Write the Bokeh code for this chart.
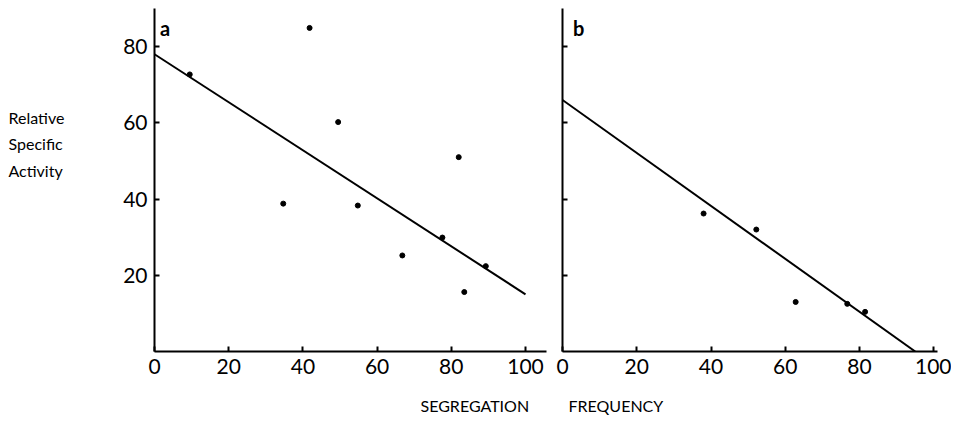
from bokeh.plotting import figure
from bokeh.layouts import row
from bokeh.models import Label, FixedTicker, Range1d, Title
from bokeh.embed import file_html
from bokeh.resources import INLINE

# ---- data ----
a_x = [9.5, 41.8, 49.5, 34.7, 54.8, 82.0, 66.8, 77.6, 89.3, 83.5]
a_y = [72.7, 84.9, 60.2, 38.8, 38.3, 51.0, 25.2, 29.9, 22.4, 15.6]
a_fit_x = [0, 100]
a_fit_y = [78, 15]

b_x = [38.0, 52.2, 62.8, 76.7, 81.5]
b_y = [36.2, 32.0, 13.0, 12.5, 10.4]
b_fit_x = [0, 95]
b_fit_y = [66, 0]

x_ticks = [0, 20, 40, 60, 80, 100]
y_ticks = [20, 40, 60, 80]
y_label_lines = ["Relative", "Specific", "Activity"]
x_title_a = "SEGREGATION"
x_title_b = "FREQUENCY"

FONT = "Lato"
H = 432


def style(p, ylabels=True):
    p.outline_line_color = None
    p.xgrid.visible = False
    p.ygrid.visible = False
    p.background_fill_color = "white"
    p.border_fill_color = "white"
    for ax in (p.xaxis[0], p.yaxis[0]):
        ax.axis_line_width = 2
        ax.axis_line_color = "black"
        ax.major_tick_line_width = 2
        ax.major_tick_line_color = "black"
        ax.major_tick_in = 5
        ax.major_tick_out = 0
        ax.minor_tick_line_color = None
        ax.major_label_text_font = FONT
        ax.major_label_text_font_size = "21px"
        ax.major_label_text_color = "black"
    p.xaxis[0].ticker = FixedTicker(ticks=x_ticks)
    p.yaxis[0].ticker = FixedTicker(ticks=y_ticks)
    p.xaxis[0].major_label_standoff = 7
    p.yaxis[0].major_label_standoff = 7
    if not ylabels:
        p.yaxis[0].major_label_overrides = {t: "" for t in y_ticks}
        p.yaxis[0].major_label_standoff = 0


# left column holding the three-line y title (its frame is aligned with panel a's)
pl = figure(width=70, height=H, x_range=Range1d(0, 70), y_range=Range1d(0, 90),
            output_backend="svg", toolbar_location=None,
            x_axis_location=None, y_axis_location=None,
            min_border_left=0, min_border_right=0, min_border_top=8, min_border_bottom=H - 352)
pl.xgrid.visible = False
pl.ygrid.visible = False
pl.outline_line_color = None
for txt, yy in zip(y_label_lines, [61.5, 54.7, 47.6]):
    pl.add_layout(Label(x=8, y=yy, text=txt, text_font=FONT, text_font_size="16px",
                        text_baseline="middle", text_align="left", text_color="black"))

pa = figure(width=484, height=H, x_range=Range1d(0, 105.66), y_range=Range1d(0, 90),
            output_backend="svg", toolbar_location=None,
            min_border_left=84, min_border_right=8, min_border_top=8, min_border_bottom=H - 352)
style(pa)
pa.line(a_fit_x, a_fit_y, line_color="black", line_width=2)
pa.scatter(a_x, a_y, size=5, color="black")
pa.add_layout(Label(x=1.5, y=85.0, text="a", text_font=FONT, text_font_style="bold",
                    text_font_size="20px", text_baseline="alphabetic", text_color="black"))
pa.add_layout(Title(text=x_title_a, align="left", offset=266, standoff=35,
                    text_font=FONT, text_font_size="16px", text_font_style="normal",
                    text_line_height=1.0, text_color="black"), "below")

pb = figure(width=397, height=H, x_range=Range1d(0, 101), y_range=Range1d(0, 90),
            output_backend="svg", toolbar_location=None,
            min_border_left=8, min_border_right=14, min_border_top=8, min_border_bottom=H - 352)
style(pb, ylabels=False)
pb.line(b_fit_x, b_fit_y, line_color="black", line_width=2)
pb.scatter(b_x, b_y, size=5, color="black")
pb.add_layout(Label(x=2.8, y=85.0, text="b", text_font=FONT, text_font_style="bold",
                    text_font_size="20px", text_baseline="alphabetic", text_color="black"))
pb.add_layout(Title(text=x_title_b, align="left", offset=6, standoff=35,
                    text_font=FONT, text_font_size="16px", text_font_style="normal",
                    text_line_height=1.0, text_color="black"), "below")

layout = row(pl, pa, pb, spacing=0)
open("out.html", "w").write(file_html(layout, INLINE))
